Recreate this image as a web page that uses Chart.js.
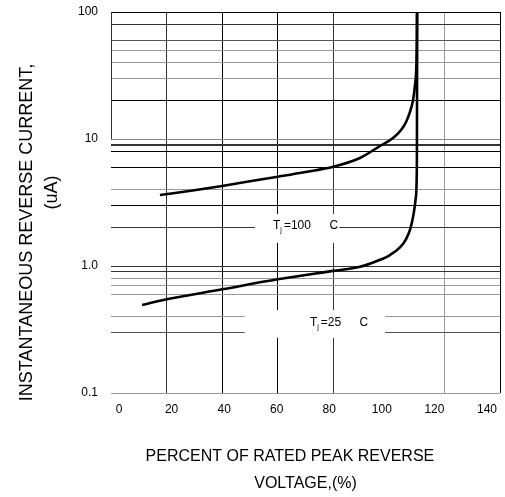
<!DOCTYPE html>
<html>
<head>
<meta charset="utf-8">
<script src="https://cdn.jsdelivr.net/npm/chart.js@4.4.1/dist/chart.umd.min.js"></script>
<style>
html,body{margin:0;padding:0;background:#fff;}
#wrap{width:505px;height:497px;}
</style>
</head>
<body>
<div id="wrap"><canvas id="c" width="505" height="497"></canvas></div>
<script>
// ---- data ----
const xGrid = [0, 20, 40, 60, 80, 100, 120, 140];
const xTicks = [0, 20, 40, 60, 80, 100, 120, 140];
const yGrid = [0.1, 0.3, 0.4, 0.6, 0.7, 0.8, 0.9, 1, 2, 3, 4, 6, 8, 9, 10, 20, 30, 40, 50, 60, 80, 100];
const yTickLabels = {0.1: '0.1', 1: '1.0', 10: '10', 100: '100'};

const t100X = [17.6, 30, 40, 50, 60, 70, 80, 89.6, 96.8, 101.5, 104.4, 106.2, 107.6, 108.7, 109.4, 109.9, 110.05, 110.1];
const t100Y = [3.62, 3.95, 4.27, 4.65, 5.05, 5.5, 6.05, 7.09, 8.81, 10.18, 11.77, 13.61, 16.32, 20.28, 26.6, 38.3, 60.2, 100];

const t25X = [11.2, 20, 40, 60, 80, 89.6, 95.7, 100.4, 104.0, 106.2, 107.8, 108.9, 109.6, 110.0, 110.1, 110.2];
const t25Y = [0.493, 0.547, 0.655, 0.786, 0.915, 0.985, 1.095, 1.22, 1.40, 1.63, 1.99, 2.57, 3.31, 4.75, 8.18, 100];

const labelTexts = [
  {temp: '100', unit: 'C'},
  {temp: '25', unit: 'C'}
];

// ---- styles / placement (not data) ----
const xGridColor = {0: 'rgba(0,0,0,0)', 20: '#333', 40: '#000', 60: '#000', 80: '#333', 100: 'rgba(0,0,0,0)', 120: '#999', 140: '#000'};
const yGridColor = {0.1: '#999', 0.3: '#555', 0.4: '#999', 0.6: '#999', 0.7: '#999', 0.8: '#999', 0.9: '#333', 1: '#333',
  2: '#333', 3: '#000', 4: '#999', 6: '#000', 8: '#000', 9: '#333', 10: '#888', 20: '#000', 30: '#999', 40: '#999',
  50: '#999', 60: '#555', 80: '#333', 100: '#000'};
const yGridWidth = {9: 2};
const labelPlacement = [
  {box: [51.8, 82.2, 2.57, 1.52], tx: 58.3, ty: 2.07, cx: 80.2},
  {box: [48.1, 98.6, 0.45, 0.272], tx: 71.6, ty: 0.356, cx: 91.0}
];
const FONT = "Arial, 'Liberation Sans', Helvetica, sans-serif";

const toPts = (xs, ys) => xs.map((x, i) => ({x: x, y: ys[i]}));

const annotPlugin = {
  id: 'annot',
  beforeDatasetsDraw(chart) {
    const ctx = chart.ctx, xs = chart.scales.x, ys = chart.scales.y;
    ctx.save();
    // partial left frame (upper decade only)
    ctx.strokeStyle = '#333';
    ctx.lineWidth = 1;
    ctx.beginPath();
    const lx = Math.round(xs.getPixelForValue(0)) + 0.5;
    ctx.moveTo(lx, ys.getPixelForValue(100));
    ctx.lineTo(lx, ys.getPixelForValue(10));
    ctx.stroke();
    labelPlacement.forEach((p, i) => {
      const x0 = xs.getPixelForValue(p.box[0]), x1 = xs.getPixelForValue(p.box[1]);
      const y0 = ys.getPixelForValue(p.box[2]), y1 = ys.getPixelForValue(p.box[3]);
      ctx.fillStyle = '#fff';
      ctx.fillRect(x0, y0, x1 - x0, y1 - y0);
      const ty = ys.getPixelForValue(p.ty);
      let tx = xs.getPixelForValue(p.tx);
      ctx.fillStyle = '#000';
      ctx.textBaseline = 'middle';
      ctx.textAlign = 'left';
      ctx.font = '12px ' + FONT;
      ctx.fillText('T', tx, ty);
      tx += ctx.measureText('T').width;
      ctx.font = '7px ' + FONT;
      ctx.fillText('j', tx, ty + 4);
      tx += ctx.measureText('j').width + 2;
      ctx.font = '12px ' + FONT;
      ctx.fillText('=' + labelTexts[i].temp, tx, ty);
      ctx.textAlign = 'center';
      ctx.fillText(labelTexts[i].unit, xs.getPixelForValue(p.cx), ty);
    });
    ctx.restore();
  }
};

new Chart(document.getElementById('c'), {
  type: 'line',
  data: {
    datasets: [
      {label: 'Tj=100 C', data: toPts(t100X, t100Y), borderColor: '#000', borderWidth: 2.6,
       pointRadius: 0, fill: false, cubicInterpolationMode: 'monotone'},
      {label: 'Tj=25 C', data: toPts(t25X, t25Y), borderColor: '#000', borderWidth: 2.6,
       pointRadius: 0, fill: false, cubicInterpolationMode: 'monotone'}
    ]
  },
  options: {
    responsive: false,
    animation: false,
    devicePixelRatio: 1,
    layout: {padding: {top: 12, right: 5, left: 0, bottom: 0}},
    plugins: {legend: {display: false}, tooltip: {enabled: false}},
    scales: {
      x: {
        type: 'linear', position: 'bottom', min: 0, max: 140,
        afterBuildTicks: s => { s.ticks = xGrid.map(v => ({value: v})); },
        afterFit: s => { s.height = 0; s.paddingLeft = 0; s.paddingRight = 0; },
        grid: {drawTicks: false, lineWidth: 1, color: c => xGridColor[c.tick.value] || 'rgba(0,0,0,0)'},
        border: {display: false},
        ticks: {display: false}
      },
      x2: {
        type: 'linear', position: 'bottom', min: -3.04, max: 144.96,
        afterBuildTicks: s => { s.ticks = xTicks.map(v => ({value: v})); },
        afterFit: s => { s.height = 104; s.paddingLeft = 0; s.paddingRight = 0; },
        grid: {display: false, drawTicks: false},
        border: {display: false},
        ticks: {autoSkip: false, maxRotation: 0, padding: 9, color: '#000', font: {family: FONT, size: 12},
                callback: v => String(v)},
        title: {
          display: true,
          text: ['PERCENT OF RATED PEAK REVERSE       ', 'VOLTAGE,(%)'],
          color: '#000',
          font: {family: FONT, size: 16, lineHeight: 1.69},
          padding: {top: 0, bottom: 0}
        }
      },
      y: {
        type: 'logarithmic', position: 'left', min: 0.1, max: 100,
        afterBuildTicks: s => { s.ticks = yGrid.map(v => ({value: v})); },
        afterFit: s => { s.width = 111; s.paddingTop = 0; s.paddingBottom = 0; },
        grid: {drawTicks: false,
               color: c => yGridColor[c.tick.value] || '#999',
               lineWidth: c => yGridWidth[c.tick.value] || 1},
        border: {display: false},
        ticks: {autoSkip: false, padding: 13, color: '#000', font: {family: FONT, size: 12},
                callback: v => (yTickLabels[v] !== undefined ? yTickLabels[v] : '')},
        title: {
          display: true,
          text: ['INSTANTANEOUS REVERSE CURRENT,            ', '    (uA)'],
          color: '#000',
          font: {family: FONT, size: 18, lineHeight: 1.417},
          padding: {top: 14, bottom: 0}
        }
      }
    }
  },
  plugins: [annotPlugin]
});
</script>
</body>
</html>
